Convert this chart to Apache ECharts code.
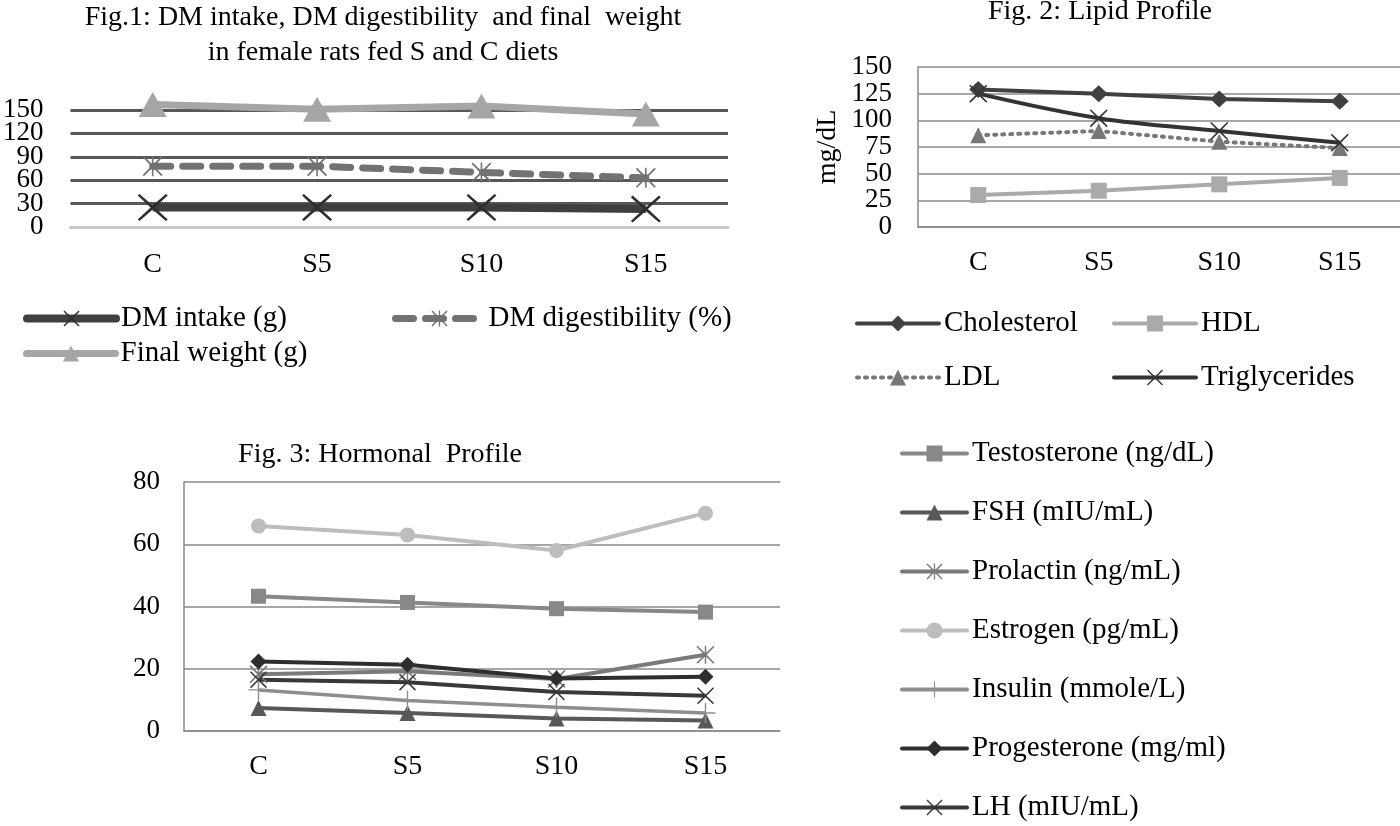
<!DOCTYPE html>
<html>
<head>
<meta charset="utf-8">
<script src="https://cdn.jsdelivr.net/npm/echarts@6/dist/echarts.min.js"></script>
<style>
html,body{margin:0;padding:0;background:#fff;}
#chart{width:1400px;height:826px;}
</style>
</head>
<body>
<div id="chart"></div>
<script>
// ---------- DATA ----------
const categories = ['C', 'S5', 'S10', 'S15'];

// Fig. 1
const fig1Title = ['Fig.1: DM intake, DM digestibility  and final  weight', 'in female rats fed S and C diets'];
const dmIntake = [25, 25, 25, 23];
const dmDigestibility = [78, 78, 70, 63];
const finalWeight = [157, 151, 155, 145];
const fig1Ticks = { min: 0, max: 150, step: 30 };

// Fig. 2
const fig2Title = 'Fig. 2: Lipid Profile';
const fig2Unit = 'mg/dL';
const cholesterol = [129, 125, 120, 118];
const hdl = [30, 34, 40, 46];
const ldl = [86, 90, 80, 74];
const triglycerides = [125, 102, 90, 79];
const fig2Ticks = { min: 0, max: 150, step: 25 };

// Fig. 3
const fig3Title = 'Fig. 3: Hormonal  Profile';
const testosterone = [43.3, 41.3, 39.3, 38.2];
const fsh = [7.4, 5.8, 4.0, 3.4];
const prolactin = [18.2, 19.2, 16.7, 24.5];
const estrogen = [65.9, 63.0, 58.0, 70.0];
const insulin = [13.2, 9.8, 7.6, 5.8];
const progesterone = [22.3, 21.3, 16.9, 17.4];
const lh = [16.5, 15.7, 12.5, 11.3];
const fig3Ticks = { min: 0, max: 80, step: 20 };

// ---------- STYLE ----------
const FONT = "'Liberation Serif', 'Times New Roman', serif";
const X_PATH = 'path://M1.2,0 L10,8.6 L18.8,0 L20,1.2 L11.4,10 L20,18.8 L18.8,20 L10,11.4 L1.2,20 L0,18.8 L8.6,10 L0,1.2 Z';
const STAR_PATH = 'path://M1.2,0 L10,8.6 L18.8,0 L20,1.2 L11.4,10 L20,18.8 L18.8,20 L10,11.4 L1.2,20 L0,18.8 L8.6,10 L0,1.2 Z M9.2,0 L10.8,0 L10.8,20 L9.2,20 Z';
const PLUS_PATH = 'path://M9.3,0 L10.7,0 L10.7,9.3 L20,9.3 L20,10.7 L10.7,10.7 L10.7,20 L9.3,20 L9.3,10.7 L0,10.7 L0,9.3 L9.3,9.3 Z';

// plot boxes (pixels)
const G1 = { left: 68, top: 110, width: 660, height: 117 };
const G2 = { left: 918, top: 67, width: 482, height: 160 };
const G3 = { left: 184, top: 482, width: 596, height: 249 };

function lineSeries(name, data, idx, color, width, symbol, size, extra) {
  return Object.assign({
    type: 'line', name: name, data: data,
    xAxisIndex: idx, yAxisIndex: idx,
    symbol: symbol, symbolSize: size, showSymbol: true,
    lineStyle: { color: color, width: width },
    itemStyle: { color: color, borderWidth: 0 },
    emphasis: { disabled: true },
    clip: false, animation: false
  }, extra || {});
}

function legend(names, left, top, itemWidth, lineWidth, extra) {
  return Object.assign({
    data: names, left: left, top: top, padding: 0,
    itemWidth: itemWidth, itemHeight: 20,
    selectedMode: false,
    lineStyle: { width: lineWidth, cap: 'round' },
    textStyle: { fontFamily: FONT, fontSize: 29, color: '#000', lineHeight: 29 }
  }, extra || {});
}

const labelStyle = (size, margin, extra) => Object.assign({
  fontFamily: FONT, fontSize: size, color: '#000', margin: margin
}, extra || {});

// Tick labels of densely labelled axes are split over two label-only axes
// (alternate ticks), sharing the same value-to-pixel mapping as the plot.
function labelAxis(gridIndex, min, max, step, margin, extra) {
  return Object.assign({
    type: 'value', gridIndex: gridIndex, position: 'left', offset: 0,
    min: min, max: max, interval: step,
    axisLine: { show: false }, axisTick: { show: false }, splitLine: { show: false },
    axisLabel: labelStyle(27, margin)
  }, extra || {});
}

const chart = echarts.init(document.getElementById('chart'), null, { renderer: 'canvas' });

// Fig.1 odd-tick grid: same pixel scale, range extended one step below 0
const G1b = { left: G1.left, top: G1.top, width: G1.width,
  height: G1.height * (fig1Ticks.max - fig1Ticks.min + fig1Ticks.step) / (fig1Ticks.max - fig1Ticks.min) };
// Fig.2 odd-tick grid: range (min-step .. max-step)
const pxPerUnit2 = G2.height / (fig2Ticks.max - fig2Ticks.min);
const G2b = { left: G2.left, top: G2.top + fig2Ticks.step * pxPerUnit2, width: G2.width, height: G2.height };

const option = {
  backgroundColor: '#fff',
  animation: false,
  graphic: [
    { type: 'text', x: 383, y: 18, style: { text: fig1Title[0], font: '28px ' + FONT, fill: '#000', textAlign: 'center', textVerticalAlign: 'middle' } },
    { type: 'text', x: 383, y: 53, style: { text: fig1Title[1], font: '28px ' + FONT, fill: '#000', textAlign: 'center', textVerticalAlign: 'middle' } },
    { type: 'text', x: 1100, y: 12, style: { text: fig2Title, font: '28px ' + FONT, fill: '#000', textAlign: 'center', textVerticalAlign: 'middle' } },
    { type: 'text', x: 380, y: 455, style: { text: fig3Title, font: '28px ' + FONT, fill: '#000', textAlign: 'center', textVerticalAlign: 'middle' } }
  ],
  grid: [G1, G2, G3, G1b, G2b],
  xAxis: [
    { type: 'category', gridIndex: 0, data: categories, boundaryGap: true,
      axisLine: { show: true, lineStyle: { color: '#c8c8c8', width: 3 } }, axisTick: { show: false },
      axisLabel: labelStyle(28, 24), splitLine: { show: false } },
    { type: 'category', gridIndex: 1, data: categories, boundaryGap: true,
      axisLine: { show: true, lineStyle: { color: '#8a8a8a', width: 1.5 } }, axisTick: { show: false },
      axisLabel: labelStyle(28, 22), splitLine: { show: false } },
    { type: 'category', gridIndex: 2, data: categories, boundaryGap: true,
      axisLine: { show: true, lineStyle: { color: '#8a8a8a', width: 1.5 } }, axisTick: { show: false },
      axisLabel: labelStyle(28, 22), splitLine: { show: false } },
    { type: 'category', gridIndex: 3, data: categories, show: false },
    { type: 'category', gridIndex: 4, data: categories, show: false }
  ],
  yAxis: [
    // 0: Fig.1 plot axis (grid lines)
    { type: 'value', gridIndex: 0, position: 'left', min: fig1Ticks.min, max: fig1Ticks.max, interval: fig1Ticks.step,
      axisLine: { show: false }, axisTick: { show: false }, axisLabel: { show: false },
      splitLine: { show: true, lineStyle: { color: '#585858', width: 3 } } },
    // 1: Fig.2 plot axis
    { type: 'value', gridIndex: 1, position: 'left', min: fig2Ticks.min, max: fig2Ticks.max, interval: fig2Ticks.step,
      axisLine: { show: true, lineStyle: { color: '#8a8a8a', width: 1.5 } }, axisTick: { show: false },
      axisLabel: { show: false },
      splitLine: { show: true, lineStyle: { color: '#8a8a8a', width: 1.5 } } },
    // 2: Fig.3 plot axis
    { type: 'value', gridIndex: 2, position: 'left', min: fig3Ticks.min, max: fig3Ticks.max, interval: fig3Ticks.step,
      axisLine: { show: true, lineStyle: { color: '#8a8a8a', width: 1.5 } }, axisTick: { show: false },
      axisLabel: labelStyle(27, 24),
      splitLine: { show: true, lineStyle: { color: '#8a8a8a', width: 1.5 } } },
    // 3: Fig.1 labels 0, 60, 120
    labelAxis(0, fig1Ticks.min, fig1Ticks.max, fig1Ticks.step * 2, 27,
      { axisLabel: labelStyle(27, 27, { showMaxLabel: false }) }),
    // 4: Fig.2 labels 0, 50, 100, 150 (+ unit name)
    labelAxis(1, fig2Ticks.min, fig2Ticks.max, fig2Ticks.step * 2, 26,
      { name: fig2Unit, nameLocation: 'middle', nameRotate: 90, nameGap: 76,
        nameTextStyle: { fontFamily: FONT, fontSize: 28, color: '#000' } }),
    // 5: Fig.1 labels 30, 90, 150
    labelAxis(3, fig1Ticks.min - fig1Ticks.step, fig1Ticks.max, fig1Ticks.step * 2, 27,
      { axisLabel: labelStyle(27, 27, { showMinLabel: false }) }),
    // 6: Fig.2 labels 25, 75, 125
    labelAxis(4, fig2Ticks.min - fig2Ticks.step, fig2Ticks.max - fig2Ticks.step, fig2Ticks.step * 2, 26,
      { axisLabel: labelStyle(27, 26, { showMinLabel: false }) })
  ],
  legend: [
    legend(['DM intake (g)'], 23, 304, 89, 8),
    legend(['DM digestibility (%)'], 392, 304, 88, 7),
    legend(['Final weight (g)'], 23, 339, 89, 7),
    legend(['Cholesterol'], 855, 309, 82, 4),
    legend(['HDL'], 1112, 309, 82, 4),
    legend(['LDL'], 855, 363, 82, 4),
    legend(['Triglycerides'], 1112, 363, 82, 4),
    legend(['Testosterone (ng/dL)', 'FSH (mIU/mL)', 'Prolactin (ng/mL)', 'Estrogen (pg/mL)',
            'Insulin (mmole/L)', 'Progesterone (mg/ml)', 'LH (mIU/mL)'], 900, 439, 65, 4,
           { orient: 'vertical', itemGap: 30 })
  ],
  series: [
    // Fig 1
    lineSeries('DM intake (g)', dmIntake, 0, '#3f3f3f', 8, X_PATH, [30, 27], { itemStyle: { color: '#2e2e2e' } }),
    lineSeries('DM digestibility (%)', dmDigestibility, 0, '#727272', 7, STAR_PATH, 20,
      { lineStyle: { color: '#727272', width: 7, type: [18, 12], cap: 'round' } }),
    lineSeries('Final weight (g)', finalWeight, 0, '#a6a6a6', 7, 'triangle', [28, 25]),
    // Fig 2
    lineSeries('Cholesterol', cholesterol, 1, '#404040', 4, 'diamond', [18, 17]),
    lineSeries('HDL', hdl, 1, '#aaaaaa', 4, 'rect', 16),
    lineSeries('LDL', ldl, 1, '#777777', 4, 'triangle', 16,
      { lineStyle: { color: '#777777', width: 4, type: [2, 6], cap: 'round' } }),
    lineSeries('Triglycerides', triglycerides, 1, '#333333', 4, X_PATH, 18, { smooth: 0.35 }),
    // Fig 3
    lineSeries('Testosterone (ng/dL)', testosterone, 2, '#888888', 4, 'rect', 15),
    lineSeries('FSH (mIU/mL)', fsh, 2, '#585858', 4, 'triangle', 16),
    lineSeries('Prolactin (ng/mL)', prolactin, 2, '#7a7a7a', 4, STAR_PATH, 18),
    lineSeries('Estrogen (pg/mL)', estrogen, 2, '#bdbdbd', 4, 'circle', 15),
    lineSeries('Insulin (mmole/L)', insulin, 2, '#8e8e8e', 3.5, PLUS_PATH, 20),
    lineSeries('Progesterone (mg/ml)', progesterone, 2, '#2e2e2e', 4, 'diamond', [16, 16]),
    lineSeries('LH (mIU/mL)', lh, 2, '#383838', 4, X_PATH, 17)
  ]
};

chart.setOption(option);
</script>
</body>
</html>
